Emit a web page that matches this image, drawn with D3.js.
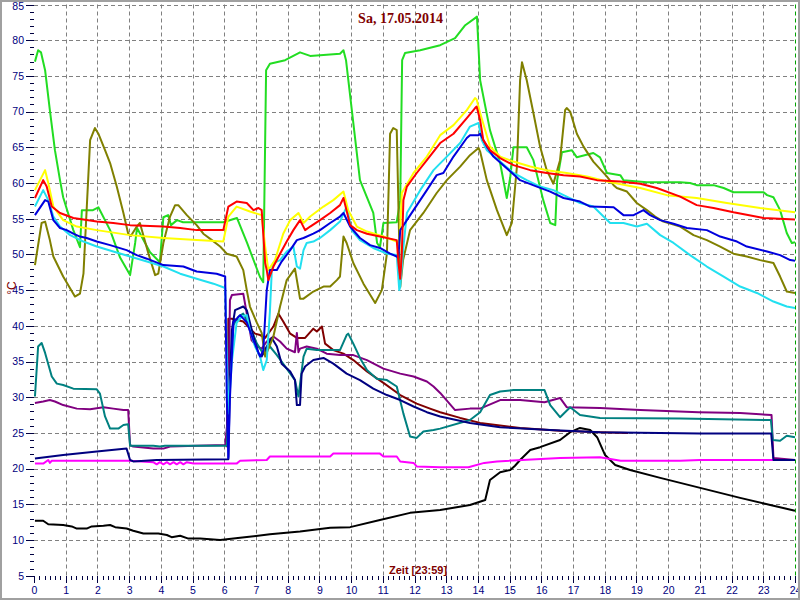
<!DOCTYPE html>
<html>
<head>
<meta charset="utf-8">
<script src="https://cdn.jsdelivr.net/npm/d3@7"></script>
<style>
  body { margin: 0; background: #fff; }
  svg { display: block; }
</style>
</head>
<body>
<svg id="chart" width="800" height="600"></svg>
<script>
// ---- Data (hour of day, °C) ----
const titleText = "Sa, 17.05.2014";
const xLabelText = "Zeit [23:59]";
const yLabelText = "°C";
const xTicks = d3.range(0, 25);           // 0..24
const yTicks = d3.range(5, 90, 5);        // 5..85

const green = [[0.03,77.0],[0.13,78.6],[0.22,78.3],[0.35,75.8],[0.50,70.2],[0.66,64.6],[0.82,60.4],[0.92,58.0],[1.24,53.4],[1.45,51.0],[1.51,56.2],[1.86,56.2],[2.03,56.6],[2.40,53.4],[2.71,49.6],[3.03,47.1],[3.19,51.6],[3.25,53.7],[3.66,50.3],[3.97,48.9],[4.08,55.2],[4.23,55.5],[4.32,54.1],[4.51,54.8],[4.70,54.5],[5.11,54.5],[5.97,54.5],[6.40,55.1],[6.72,51.6],[7.13,46.8],[7.23,46.1],[7.32,75.8],[7.44,76.7],[7.92,77.2],[8.39,78.3],[8.71,77.8],[9.65,78.1],[9.76,78.6],[9.84,77.2],[10.28,60.4],[10.70,55.8],[10.82,51.6],[10.91,51.0],[11.02,54.4],[11.44,54.5],[11.55,57.6],[11.61,77.2],[11.70,78.2],[12.18,78.6],[12.81,79.3],[13.28,80.3],[13.60,82.1],[13.91,83.1],[13.97,83.3],[14.07,74.4],[14.38,67.4],[14.70,62.8],[14.91,57.9],[15.02,60.8],[15.12,65.0],[15.54,65.0],[15.75,63.2],[16.06,57.6],[16.28,54.4],[16.44,54.1],[16.50,60.4],[16.65,64.3],[16.96,64.6],[17.12,63.6],[17.64,64.2],[17.85,63.6],[18.07,61.4],[18.49,61.1],[18.59,60.4],[19.33,60.1],[20.38,60.1],[20.69,60.0],[20.90,59.7],[21.43,59.7],[21.75,59.3],[22.06,58.7],[23.01,58.7],[23.12,58.3],[23.32,58.0],[23.53,56.2],[23.74,53.0],[23.90,51.6],[24.0,51.7]];

const olive = [[0.03,48.5],[0.24,54.4],[0.35,54.6],[0.50,52.0],[0.61,49.7],[0.92,46.9],[1.29,44.1],[1.45,44.5],[1.56,47.3],[1.77,66.0],[1.92,67.7],[2.03,66.9],[2.24,64.6],[2.40,62.8],[2.61,59.5],[2.82,55.8],[2.97,52.9],[3.06,52.6],[3.24,53.9],[3.34,54.4],[3.61,50.1],[3.82,47.1],[3.92,47.3],[4.08,51.6],[4.29,55.3],[4.45,56.9],[4.55,56.9],[4.82,55.5],[5.13,54.1],[5.34,52.9],[5.61,52.0],[5.87,51.1],[6.08,50.1],[6.39,49.7],[6.60,47.8],[6.71,45.0],[6.81,42.7],[7.03,40.4],[7.18,39.0],[7.29,35.7],[7.55,38.5],[7.76,42.7],[7.97,46.4],[8.23,48.0],[8.39,43.8],[8.50,43.8],[8.81,44.8],[9.13,45.5],[9.34,45.5],[9.55,46.4],[9.65,46.9],[9.76,52.5],[9.86,51.6],[10.07,48.8],[10.39,45.9],[10.76,43.2],[10.97,45.0],[11.13,50.1],[11.23,66.9],[11.33,67.7],[11.44,67.4],[11.55,45.4],[11.64,49.2],[11.86,53.4],[12.28,55.8],[12.70,58.6],[13.02,60.4],[13.44,62.3],[13.75,63.9],[14.02,64.9],[14.07,64.4],[14.28,60.4],[14.60,56.2],[14.91,52.7],[15.07,54.4],[15.23,62.3],[15.33,74.4],[15.39,76.9],[15.54,74.4],[15.75,69.8],[15.96,65.1],[16.17,61.8],[16.38,59.9],[16.59,63.2],[16.75,70.2],[16.80,70.5],[16.91,70.0],[17.12,66.9],[17.33,65.1],[17.64,63.0],[18.07,60.9],[18.28,59.7],[18.38,59.3],[18.70,58.8],[19.01,57.2],[19.33,56.2],[19.59,55.3],[19.85,54.6],[20.38,53.9],[20.80,52.7],[21.22,52.0],[21.64,51.1],[22.06,50.1],[22.48,49.7],[22.90,49.2],[23.32,48.8],[23.53,46.9],[23.74,44.8],[24.0,44.6]];

const red = [[0.03,57.9],[0.29,60.4],[0.40,59.5],[0.56,56.7],[0.82,55.8],[1.24,55.1],[1.98,54.6],[2.50,54.4],[3.03,54.1],[4.08,53.9],[4.61,53.7],[5.13,53.4],[5.97,53.4],[6.13,56.7],[6.39,57.4],[6.71,57.2],[6.92,56.2],[7.08,56.5],[7.18,56.2],[7.23,52.9],[7.29,48.8],[7.34,47.8],[7.39,46.4],[7.55,48.3],[7.76,50.1],[7.97,51.8],[8.18,53.4],[8.39,54.8],[8.55,53.4],[8.71,53.9],[9.02,54.8],[9.34,55.8],[9.65,56.9],[9.76,57.9],[9.97,54.1],[10.18,53.4],[10.50,52.9],[10.91,52.5],[11.44,52.0],[11.49,49.0],[11.55,46.6],[11.60,50.1],[11.65,57.6],[11.76,59.5],[12.07,61.4],[12.39,63.2],[12.81,65.6],[13.23,66.9],[13.65,69.1],[13.91,70.5],[13.96,70.7],[14.07,68.8],[14.17,66.0],[14.38,64.6],[14.70,63.5],[15.12,62.5],[15.65,61.8],[16.17,61.4],[16.70,61.1],[17.22,60.9],[17.75,60.4],[18.49,60.2],[19.12,59.9],[19.64,59.3],[20.38,58.1],[20.90,56.9],[21.43,56.5],[22.06,55.9],[23.01,55.1],[24.0,54.9]];

const yellow = [[0.03,59.0],[0.35,61.8],[0.45,60.0],[0.61,56.7],[0.92,54.8],[1.35,53.9],[1.98,53.4],[3.03,52.7],[4.08,52.3],[5.13,52.0],[5.97,51.8],[6.13,55.3],[6.39,56.7],[6.81,56.0],[7.18,55.5],[7.29,51.1],[7.39,47.8],[7.60,49.2],[7.86,52.9],[8.08,54.8],[8.34,55.8],[8.50,54.4],[8.71,55.3],[9.13,56.7],[9.44,57.6],[9.76,58.8],[9.91,56.2],[10.18,53.9],[10.50,53.2],[11.02,52.5],[11.44,51.8],[11.52,50.5],[11.60,58.6],[11.97,61.4],[12.39,63.7],[12.81,66.7],[13.23,68.1],[13.65,70.2],[13.91,71.9],[13.96,71.7],[14.07,69.8],[14.38,65.1],[14.70,63.7],[15.12,63.0],[15.65,62.3],[16.17,61.8],[16.80,61.4],[17.44,60.9],[18.07,60.2],[19.12,59.3],[19.96,58.3],[20.90,57.9],[21.85,57.2],[22.90,56.5],[24.0,55.9]];

const cyan = [[0.03,56.7],[0.29,59.0],[0.45,57.6],[0.61,55.3],[0.82,53.9],[1.14,52.7],[1.56,51.8],[1.98,51.1],[2.50,50.4],[3.03,49.7],[3.56,49.0],[4.08,48.3],[4.61,47.3],[5.13,46.6],[5.66,45.9],[6.03,45.3],[6.13,27.7],[6.24,35.0],[6.39,40.4],[6.55,41.3],[6.71,41.5],[6.81,39.4],[6.97,37.1],[7.13,35.7],[7.23,33.8],[7.34,35.2],[7.44,42.0],[7.50,47.8],[7.55,48.8],[7.76,49.2],[7.97,50.4],[8.18,51.1],[8.29,48.3],[8.39,48.0],[8.50,50.6],[8.60,51.6],[8.81,51.8],[9.02,52.3],[9.34,53.4],[9.65,54.6],[9.86,56.7],[10.02,53.4],[10.28,52.0],[10.70,50.9],[11.13,50.1],[11.44,49.9],[11.52,45.0],[11.55,45.5],[11.65,51.0],[11.76,55.8],[12.18,59.0],[12.60,61.8],[13.02,63.7],[13.44,65.6],[13.75,67.9],[14.02,68.4],[14.12,66.0],[14.28,64.6],[14.70,63.0],[15.12,61.4],[15.54,60.4],[15.96,59.5],[16.38,59.0],[16.80,58.1],[17.22,57.2],[17.64,56.7],[17.96,55.3],[18.17,54.4],[18.59,54.4],[19.01,53.9],[19.33,54.3],[19.75,52.7],[20.17,51.6],[20.69,49.9],[21.22,48.3],[21.75,46.9],[22.27,45.5],[22.80,44.6],[23.32,43.4],[23.74,42.7],[24.0,42.5]];

const blue = [[0.03,55.5],[0.35,57.6],[0.45,57.4],[0.61,54.8],[0.82,53.7],[1.03,53.4],[1.24,52.9],[1.45,52.5],[1.66,52.3],[1.98,51.8],[2.40,51.3],[2.92,50.6],[3.24,49.9],[3.56,49.4],[4.08,48.5],[4.71,48.3],[5.13,47.6],[5.76,47.3],[6.03,46.9],[6.08,30.0],[6.13,21.5],[6.18,30.0],[6.29,40.5],[6.50,41.5],[6.71,40.5],[6.92,38.0],[7.13,35.7],[7.23,36.5],[7.34,45.0],[7.44,47.8],[7.66,47.8],[7.81,49.0],[8.08,50.6],[8.29,52.0],[8.50,52.3],[8.81,52.9],[9.02,53.4],[9.34,54.4],[9.65,55.3],[9.76,55.8],[9.97,53.9],[10.28,52.3],[10.60,51.3],[10.91,50.9],[11.23,50.1],[11.44,49.7],[11.49,49.5],[11.55,53.4],[11.76,54.8],[11.97,56.2],[12.39,59.0],[12.70,61.1],[12.91,61.4],[13.23,63.7],[13.65,66.3],[13.75,66.7],[14.02,66.7],[14.07,66.9],[14.28,65.1],[14.49,63.7],[14.80,62.5],[15.33,60.4],[15.86,59.5],[16.28,58.8],[16.70,57.9],[17.22,57.4],[17.54,56.7],[18.28,56.6],[18.59,55.5],[18.91,55.5],[19.22,56.2],[19.43,55.5],[19.75,54.8],[20.17,54.3],[20.59,53.7],[21.22,53.4],[21.64,52.5],[22.17,51.8],[22.48,51.1],[23.12,50.4],[23.53,49.9],[23.85,49.2],[24.0,49.1]];

const maroon = [[6.08,23.0],[6.13,41.0],[6.24,41.0],[6.60,40.6],[6.97,38.9],[7.13,38.7],[7.29,38.3],[7.55,39.9],[7.71,41.7],[7.86,40.6],[8.08,38.9],[8.29,38.3],[8.55,38.3],[8.81,39.6],[8.92,39.2],[9.08,39.9],[9.18,37.5],[9.44,36.6],[9.76,36.1],[10.07,35.2],[10.50,33.6],[11.02,32.0],[11.55,30.3],[12.07,29.1],[12.49,28.4],[12.81,27.9],[13.44,27.1],[14.07,26.4],[15.33,25.7],[16.59,25.3],[17.85,25.1],[18.74,25.0]];

const purple = [[0.03,29.2],[0.29,29.4],[0.50,29.6],[0.66,29.4],[0.92,28.9],[1.35,28.4],[1.77,28.3],[2.19,28.6],[2.50,28.4],[2.82,28.2],[2.97,28.2],[3.03,23.3],[3.13,23.1],[3.76,22.8],[4.08,22.8],[4.29,23.1],[5.13,23.2],[6.03,23.3],[6.13,28.0],[6.18,43.6],[6.24,44.3],[6.60,44.5],[6.71,41.7],[6.86,38.0],[7.03,37.1],[7.18,36.8],[7.34,37.8],[7.55,38.5],[7.76,37.8],[7.97,36.8],[8.23,36.3],[8.29,39.0],[8.34,36.3],[8.39,36.8],[8.60,37.1],[8.92,36.8],[9.23,36.1],[9.65,35.9],[10.07,35.9],[10.50,35.2],[11.02,34.0],[11.55,33.3],[11.97,32.9],[12.39,32.2],[12.60,31.5],[12.81,30.6],[13.28,28.2],[13.75,28.4],[14.07,28.4],[14.70,29.6],[15.33,29.6],[16.10,29.3],[16.59,29.9],[16.80,28.6],[17.85,28.5],[19.12,28.2],[20.96,27.9],[22.27,27.8],[23.26,27.5],[23.32,21.5],[24.0,21.2]];

const teal = [[0.03,30.1],[0.13,37.1],[0.24,37.6],[0.35,36.2],[0.56,32.9],[0.72,31.9],[0.92,31.7],[1.24,31.2],[1.98,31.1],[2.08,30.5],[2.24,27.3],[2.40,25.6],[2.66,25.6],[2.82,26.1],[2.97,26.2],[3.03,23.2],[3.76,23.2],[3.97,23.1],[4.13,23.2],[6.08,23.2],[6.18,32.4],[6.29,40.1],[6.45,41.3],[6.60,41.7],[6.81,39.9],[7.03,37.5],[7.23,36.1],[7.44,37.1],[7.66,35.9],[7.97,34.0],[8.23,32.4],[8.34,30.1],[8.50,35.7],[8.60,36.8],[8.92,36.6],[9.34,36.6],[9.65,36.6],[9.86,38.7],[9.91,38.9],[10.07,37.5],[10.28,35.5],[10.50,33.8],[10.81,32.6],[11.13,32.4],[11.44,31.5],[11.65,27.7],[11.86,24.5],[12.07,24.3],[12.28,25.2],[12.60,25.4],[12.81,25.6],[13.75,26.8],[14.07,27.9],[14.38,30.3],[14.70,30.8],[15.12,31.0],[16.10,31.0],[16.28,28.9],[16.59,27.2],[16.91,28.6],[17.22,27.5],[17.85,27.1],[20.38,27.0],[23.24,26.8],[23.30,24.0],[23.53,23.9],[23.74,24.6],[24.0,24.4]];

const navy = [[0.03,21.4],[0.92,21.9],[1.98,22.4],[2.92,22.8],[3.03,21.2],[3.13,21.0],[3.87,21.2],[6.13,21.3],[6.18,32.4],[6.24,39.4],[6.34,42.2],[6.60,42.7],[6.71,42.2],[6.92,38.5],[7.08,36.1],[7.18,35.7],[7.34,37.1],[7.50,38.3],[7.66,37.1],[7.81,34.7],[8.08,33.6],[8.23,32.4],[8.29,28.9],[8.39,28.9],[8.44,33.3],[8.55,34.3],[8.81,35.2],[9.13,35.5],[9.44,34.7],[9.86,33.3],[10.28,32.4],[10.70,31.2],[11.13,30.3],[11.55,29.6],[11.97,28.7],[12.39,27.9],[12.81,27.3],[13.75,26.4],[14.70,25.8],[16.28,25.4],[17.85,25.1],[21.0,24.9],[23.25,24.9],[23.32,21.2],[24.0,21.2]];

const magenta = [[0.03,20.7],[0.29,20.7],[0.45,21.2],[0.50,20.8],[0.56,21.1],[1.50,21.1],[3.03,21.1],[3.76,20.9],[3.87,20.6],[3.97,20.9],[4.08,20.6],[4.19,20.9],[4.29,20.6],[4.40,20.9],[4.50,20.6],[4.61,20.9],[4.71,20.6],[4.82,20.9],[5.03,20.7],[6.39,20.7],[6.50,21.1],[7.34,21.2],[7.44,21.7],[9.34,21.7],[9.44,22.1],[10.91,22.1],[11.02,21.7],[11.44,21.7],[11.55,21.0],[11.97,20.8],[12.07,20.3],[12.81,20.2],[13.70,20.2],[14.20,20.8],[14.60,21.0],[16.59,21.5],[17.85,21.6],[18.50,21.1],[20.38,21.1],[21.00,21.2],[24.0,21.2]];

const black = [[0.03,12.7],[0.29,12.7],[0.45,12.2],[0.92,12.1],[1.19,11.9],[1.35,11.6],[1.66,11.6],[1.82,11.9],[2.19,12.0],[2.40,12.1],[2.56,11.8],[2.92,11.6],[3.13,11.3],[3.45,10.9],[3.92,10.9],[4.19,10.7],[4.34,10.4],[4.61,10.6],[4.87,10.2],[5.24,10.2],[5.87,10.0],[6.50,10.3],[7.44,10.8],[8.39,11.2],[9.34,11.7],[9.97,11.8],[10.91,12.8],[11.86,13.8],[12.81,14.2],[13.75,14.9],[14.23,15.6],[14.38,18.4],[14.70,19.5],[15.02,19.8],[15.17,20.4],[15.33,21.2],[15.65,22.6],[15.96,23.0],[16.59,24.0],[16.91,25.1],[17.22,25.7],[17.54,25.4],[17.76,24.4],[18.01,21.9],[18.33,20.5],[18.80,19.8],[19.75,18.7],[21.01,17.3],[22.27,15.9],[23.22,14.9],[24.0,14.1]];

// draw order (bottom first) and colours
const seriesList = [
  { data: black,   color: "#000000" },
  { data: magenta, color: "#ff00ff" },
  { data: maroon,  color: "#800000" },
  { data: purple,  color: "#800080" },
  { data: teal,    color: "#008080" },
  { data: navy,    color: "#000080" },
  { data: green,   color: "#22dd22" },
  { data: olive,   color: "#808000" },
  { data: cyan,    color: "#22e0f0" },
  { data: yellow,  color: "#ffff00" },
  { data: blue,    color: "#0000dd" },
  { data: red,     color: "#ff0000" }
];

// ---- Drawing ----
const svg = d3.select("#chart");
const W = 800, H = 600;
const x = d3.scaleLinear().domain([0, 24]).range([34, 795]);
const y = d3.scaleLinear().domain([5, 85]).range([575.7, 4.5]);

svg.append("rect").attr("x", 0).attr("y", 0).attr("width", W).attr("height", H).attr("fill", "#fff");

// grid
const grid = svg.append("g").attr("stroke", "#808080").attr("stroke-width", 1).attr("stroke-dasharray", "4,3");
grid.selectAll("line.h").data(yTicks.filter(v => v > 5)).join("line")
  .attr("x1", x(0)).attr("x2", x(24))
  .attr("y1", d => Math.round(y(d)) + 0.5).attr("y2", d => Math.round(y(d)) + 0.5);
grid.selectAll("line.v").data(xTicks.filter(h => h > 0 && h < 24)).join("line")
  .attr("y1", y(85)).attr("y2", y(5))
  .attr("x1", d => Math.round(x(d)) + 0.5).attr("x2", d => Math.round(x(d)) + 0.5);
// current time marker
svg.append("line").attr("x1", Math.round(x(24)) + 0.5).attr("x2", Math.round(x(24)) + 0.5)
  .attr("y1", y(85)).attr("y2", y(5)).attr("stroke", "#00a000").attr("stroke-dasharray", "4,3");

// y axis ticks
const axCol = "#000040";
const yAxisG = svg.append("g").attr("stroke", axCol).attr("stroke-width", 1);
yAxisG.selectAll("line").data(d3.range(5, 86, 1)).join("line")
  .attr("x1", d => d % 5 === 0 ? 26 : 30).attr("x2", 34)
  .attr("y1", d => Math.round(y(d)) + 0.5).attr("y2", d => Math.round(y(d)) + 0.5);
svg.append("g").selectAll("text").data(yTicks).join("text")
  .attr("x", 24).attr("y", d => Math.max(y(d) + 3.8, 10))
  .attr("text-anchor", "end")
  .attr("font-family", "'Liberation Sans', Arial, sans-serif").attr("font-size", 10.5)
  .attr("fill", "#000080").text(d => d);

// x axis ticks (10-minute minor ticks)
const xAxisG = svg.append("g").attr("stroke", axCol).attr("stroke-width", 1);
xAxisG.selectAll("line").data(d3.range(0, 24 * 6 + 1)).join("line")
  .attr("x1", d => Math.round(x(d / 6)) + 0.5).attr("x2", d => Math.round(x(d / 6)) + 0.5)
  .attr("y1", 576).attr("y2", d => d % 6 === 0 ? 583 : 580);
svg.append("g").selectAll("text").data(xTicks).join("text")
  .attr("x", d => x(d) + 0.5).attr("y", 593.5)
  .attr("text-anchor", "middle")
  .attr("font-family", "'Liberation Sans', Arial, sans-serif").attr("font-size", 10.5)
  .attr("fill", "#000080").text(d => d);

// series
const line = d3.line().x(d => x(d[0])).y(d => y(d[1]));
svg.append("g").selectAll("path").data(seriesList).join("path")
  .attr("d", d => line(d.data))
  .attr("fill", "none")
  .attr("stroke", d => d.color)
  .attr("stroke-width", 2)
  .attr("stroke-linejoin", "round");

// texts
svg.append("text").attr("x", 400.5).attr("y", 22.5).attr("text-anchor", "middle")
  .attr("font-family", "'Liberation Serif', 'Times New Roman', serif").attr("font-weight", "bold")
  .attr("font-size", 14).attr("fill", "#800000").text(titleText);
svg.append("text").attr("x", 389).attr("y", 573.5).attr("text-anchor", "start")
  .attr("font-family", "'Liberation Sans', Arial, sans-serif").attr("font-weight", "bold")
  .attr("font-size", 11).attr("fill", "#800000").text(xLabelText);
svg.append("text").attr("transform", "translate(15.5,288) rotate(-90)").attr("text-anchor", "middle")
  .attr("font-family", "'Liberation Sans', Arial, sans-serif")
  .attr("font-size", 12).attr("fill", "#800000").text(yLabelText);

// frame
svg.append("rect").attr("x", 1).attr("y", 1).attr("width", W - 2).attr("height", H - 2)
  .attr("fill", "none").attr("stroke", "#a0a0a0").attr("stroke-width", 2);
</script>
</body>
</html>
